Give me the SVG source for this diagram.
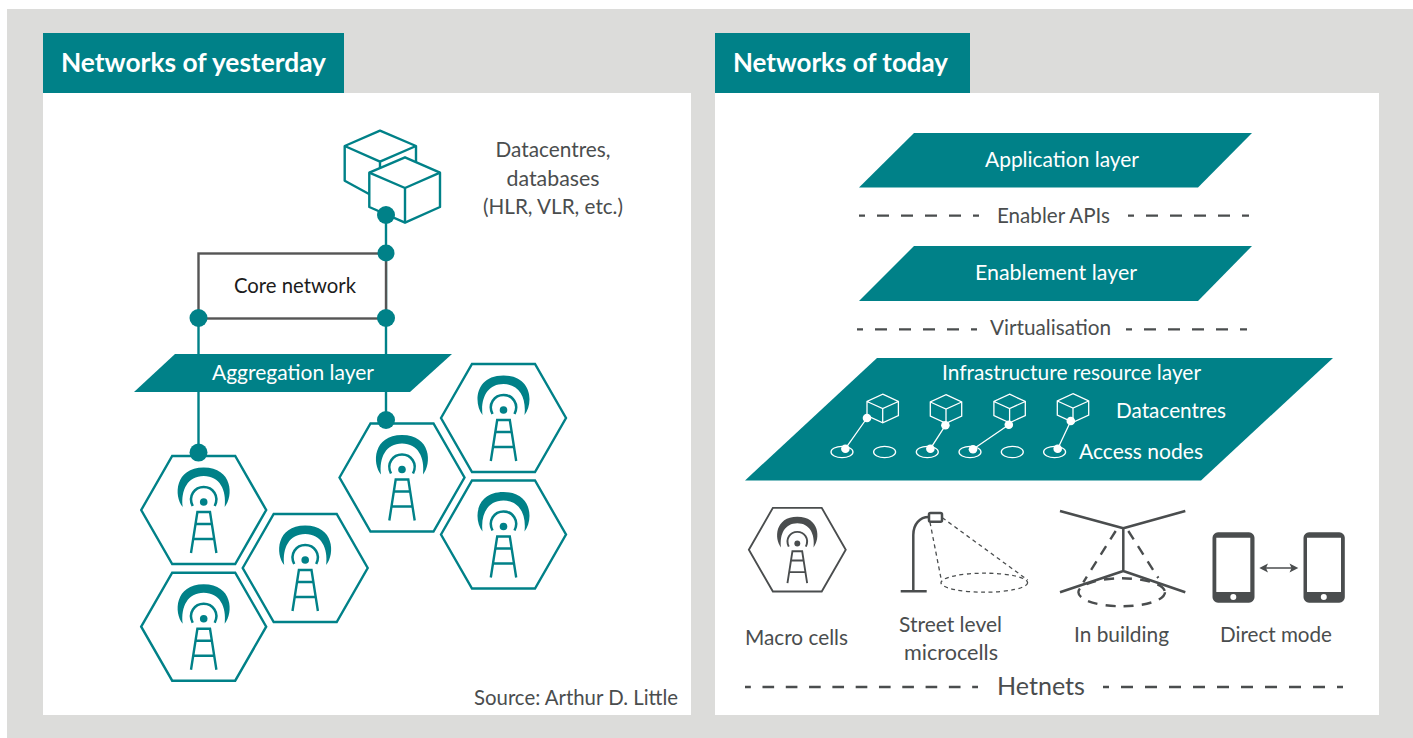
<svg xmlns="http://www.w3.org/2000/svg" xmlns:xlink="http://www.w3.org/1999/xlink" width="1413" height="738" viewBox="0 0 1413 738">
<style>
text{font-family:"Lato","Noto Sans",sans-serif;font-size:21.5px;fill:#4a4d4e}
.w{fill:#fff}
.h{font-size:26px;font-weight:700;fill:#fff}
.t{fill:#008188}
.ln{fill:none;stroke:#008188;stroke-width:2.4}
.g{fill:none;stroke:#4a4d4e;stroke-width:2.500;stroke-linejoin:round}
.dash{fill:none;stroke:#4a4d4e;stroke-width:2.300;stroke-dasharray:12 12;stroke-dashoffset:6}
.cube{fill:#fff;stroke:#008188;stroke-width:2.400;stroke-linejoin:round}
.wc{fill:none;stroke:#fff;stroke-width:1.300}
.wd{fill:#fff}
</style>
<defs>
<g id="tower">
<path fill="currentColor" d="M-21,-3C-30,-14-29,-42.500 0,-42.500C29,-42.500 30,-14 21,-3C23,-20 16,-34 0,-34C-16,-34-23,-20-21,-3Z"/>
<path fill="none" stroke="currentColor" stroke-width="2.500" d="M-11,-4C-16,-14-9,-23 0,-23C9,-23 16,-14 11,-4"/>
<circle cy="-8" r="3.800" fill="currentColor"/>
<path fill="none" stroke="currentColor" stroke-width="2.400" d="M-12.700,43L-6.300,2H6.300L12.700,43M-8.500,14H8.500M-10.500,29H10.500"/>
</g>
<g id="hex">
<path fill="#fff" stroke="currentColor" stroke-width="2.400" d="M-62.500,0L-31.500,-54H31.500L62.500,0L31.500,54H-31.500Z"/>
<use xlink:href="#tower" href="#tower"/>
</g>
<g id="wcube">
<path class="wc" d="M0,-14.300L15.700,-7V7L0,14.300L-15.700,7V-7ZM-15.700,-7L0,0L15.700,-7M0,0V14.300" />
</g>
</defs>
<rect x="7" y="9" width="1406" height="729" fill="#dcdcda"/>
<rect x="43" y="93" width="648" height="622" fill="#fff"/>
<rect x="715" y="93" width="664" height="622" fill="#fff"/>

<g id="header-left"><rect x="43" y="33" width="301" height="60" class="t"/><text class="h" x="61" y="72" textLength="265" lengthAdjust="spacingAndGlyphs">Networks of yesterday</text></g>
<g id="header-right"><rect x="715" y="33" width="255" height="60" class="t"/><text class="h" x="733" y="72" textLength="215" lengthAdjust="spacingAndGlyphs">Networks of today</text></g>

<g id="connectors">
<path class="ln" d="M386,215V420M198.500,318V452"/>
</g>

<g id="datacentres">
<path class="cube" d="M380,130.700L416,146V185L380,200L344.700,180.700V146Z"/>
<path class="cube" style="fill:none" d="M344.700,146L380,161.700L416,146M380,161.700V200"/>
<path class="cube" d="M405,157.300L440,172.700V207L405,222.700L369.300,207V172.700Z"/>
<path class="cube" style="fill:none" d="M369.300,172.700L405,188L440,172.700M405,188V222.700"/>
<text x="553" y="157" text-anchor="middle" textLength="115" lengthAdjust="spacingAndGlyphs">Datacentres,</text>
<text x="553" y="186" text-anchor="middle" textLength="93" lengthAdjust="spacingAndGlyphs">databases</text>
<text x="553" y="214" text-anchor="middle" textLength="140" lengthAdjust="spacingAndGlyphs">(HLR, VLR, etc.)</text>
</g>

<g id="core-network">
<rect x="198.500" y="253.500" width="187.500" height="65" fill="#fff" stroke="#555" stroke-width="2.400"/>
<text x="234" y="293" style="fill:#1c1c1c" textLength="122" lengthAdjust="spacingAndGlyphs">Core network</text>
</g>

<g id="junctions" class="t">
<circle cx="386" cy="215" r="9"/>
<circle cx="386" cy="253" r="8.500"/>
<circle cx="386" cy="318" r="9"/>
<circle cx="198.500" cy="318" r="9"/>
</g>

<g id="aggregation-layer">
<path class="t" d="M175,354H452L410,392H134Z"/>
<text class="w" x="212" y="380" textLength="162" lengthAdjust="spacingAndGlyphs">Aggregation layer</text>
</g>

<g id="cells" color="#008188">
<use xlink:href="#hex" href="#hex" x="203.700" y="510"/>
<use xlink:href="#hex" href="#hex" x="203.700" y="626.700"/>
<use xlink:href="#hex" href="#hex" x="305.200" y="568"/>
<use xlink:href="#hex" href="#hex" x="402" y="477.500"/>
<use xlink:href="#hex" href="#hex" x="503.500" y="418"/>
<use xlink:href="#hex" href="#hex" x="503.500" y="534.500"/>
<circle cx="198.500" cy="452.600" r="9" fill="#008188"/>
<circle cx="386" cy="420" r="9" fill="#008188"/>
</g>

<text id="source" x="474" y="705" textLength="204" lengthAdjust="spacingAndGlyphs">Source: Arthur D. Little</text>

<g id="application-layer">
<path class="t" d="M914,133H1252L1198,187.500H859Z"/>
<text class="w" x="985" y="167" textLength="154" lengthAdjust="spacingAndGlyphs">Application layer</text>
</g>
<g id="enabler-apis">
<path class="dash" d="M859,215.700H979M1128,215.700H1249"/>
<text x="997" y="223" textLength="113" lengthAdjust="spacingAndGlyphs">Enabler APIs</text>
</g>
<g id="enablement-layer">
<path class="t" d="M914,246H1252L1198,301H859Z"/>
<text class="w" x="975" y="280" textLength="162" lengthAdjust="spacingAndGlyphs">Enablement layer</text>
</g>
<g id="virtualisation">
<path class="dash" d="M857,329.300H977M1126,329.300H1247"/>
<text x="990" y="335" textLength="121" lengthAdjust="spacingAndGlyphs">Virtualisation</text>
</g>
<g id="infrastructure-layer">
<path class="t" d="M877,358H1333L1201,480.500H745Z"/>
<text class="w" x="942" y="380" textLength="259" lengthAdjust="spacingAndGlyphs">Infrastructure resource layer</text>
<use xlink:href="#wcube" href="#wcube" x="882.700" y="408.500"/>
<use xlink:href="#wcube" href="#wcube" x="946" y="409"/>
<use xlink:href="#wcube" href="#wcube" x="1009.600" y="408.500"/>
<use xlink:href="#wcube" href="#wcube" x="1073" y="408"/>
<g class="wc">
<ellipse cx="842" cy="452" rx="11" ry="5.700"/><ellipse cx="884.600" cy="452" rx="11" ry="5.700"/><ellipse cx="927.300" cy="452" rx="11" ry="5.700"/><ellipse cx="970" cy="452" rx="11" ry="5.700"/><ellipse cx="1012.300" cy="452" rx="11" ry="5.700"/><ellipse cx="1054.600" cy="452" rx="11" ry="5.700"/>
<path d="M867,418L845.400,448.700M945.400,425.300L930.400,448.700M1008.800,424.700L973,449.300M1070.800,421L1057.700,448.700"/>
</g>
<g class="wd">
<circle cx="867" cy="418" r="4.300"/><circle cx="845.400" cy="448.700" r="4.300"/>
<circle cx="945.400" cy="425.300" r="4.300"/><circle cx="930.400" cy="448.700" r="4.300"/>
<circle cx="1008.800" cy="424.700" r="4.300"/><circle cx="973" cy="449.300" r="4.300"/>
<circle cx="1070.800" cy="421" r="4.300"/><circle cx="1057.700" cy="448.700" r="4.300"/>
</g>
<text class="w" x="1116" y="418" textLength="110" lengthAdjust="spacingAndGlyphs">Datacentres</text>
<text class="w" x="1079" y="459" textLength="124" lengthAdjust="spacingAndGlyphs">Access nodes</text>
</g>

<g id="macro-cells" color="#4a4d4e">
<g transform="translate(797.300 549.700) scale(.775)"><use xlink:href="#hex" href="#hex"/></g>
<text x="745" y="645" textLength="103" lengthAdjust="spacingAndGlyphs">Macro cells</text>
</g>
<g id="street-level">
<path class="g" d="M900.700,591.300H926.700M913.300,591.300V535C913.300,524 920,517 928.700,517"/>
<rect x="929" y="513" width="13" height="8.700" rx="1.500" class="g"/>
<path fill="none" stroke="#4a4d4e" stroke-width="1.300" stroke-dasharray="4 3.500" d="M930,522.300L941.700,582M942.300,517.700L1027.700,580"/>
<ellipse cx="984.300" cy="582.700" rx="43.300" ry="9.500" fill="none" stroke="#4a4d4e" stroke-width="1.300" stroke-dasharray="4 3.500"/>
<text x="899" y="632" textLength="103" lengthAdjust="spacingAndGlyphs">Street level</text>
<text x="904" y="660" textLength="94" lengthAdjust="spacingAndGlyphs">microcells</text>
</g>
<g id="in-building">
<path class="g" d="M1060,511L1123.300,528.300L1185.300,511M1123.300,528.300V571M1060,592.300L1123.300,571L1185.300,592.300"/>
<path fill="none" stroke="#4a4d4e" stroke-width="2.400" stroke-dasharray="10 8" d="M1115.700,531L1083.300,582.300M1128.300,531L1158.300,578"/>
<ellipse cx="1121.700" cy="592.300" rx="43.300" ry="14" fill="none" stroke="#4a4d4e" stroke-width="2.400" stroke-dasharray="10 8"/>
<text x="1074" y="642" textLength="95" lengthAdjust="spacingAndGlyphs">In building</text>
</g>
<g id="direct-mode">
<path fill="#4a4d4e" fill-rule="evenodd" d="M1218,532.300H1249A5.500,5.500 0 0 1 1254.500,537.800V597.200A5.500,5.500 0 0 1 1249,602.700H1218A5.500,5.500 0 0 1 1212.500,597.200V537.800A5.500,5.500 0 0 1 1218,532.300ZM1216.300,537.700V592H1250.300V537.700ZM1233.300,594A3,3 0 1 0 1233.301,600A3,3 0 1 0 1233.300,594Z"/>
<path fill="#4a4d4e" fill-rule="evenodd" d="M1309,532.300H1339.300A5.500,5.500 0 0 1 1344.800,537.800V597.200A5.500,5.500 0 0 1 1339.300,602.700H1309A5.500,5.500 0 0 1 1303.500,597.200V537.800A5.500,5.500 0 0 1 1309,532.300ZM1307,537.700V592H1341V537.700ZM1323.800,594A3,3 0 1 0 1323.801,600A3,3 0 1 0 1323.800,594Z"/>
<path fill="none" stroke="#4a4d4e" stroke-width="1.400" d="M1262,568H1296"/>
<path fill="#4a4d4e" d="M1259.300,568L1268,563.500L1266,568L1268,572.500ZM1298.300,568L1289.500,563.500L1291.500,568L1289.500,572.500Z"/>
<text x="1220" y="642" textLength="112" lengthAdjust="spacingAndGlyphs">Direct mode</text>
</g>
<g id="hetnets">
<path class="dash" style="stroke-dasharray:11.650 11.650;stroke-dashoffset:5.825" d="M745,687H978"/>
<path class="dash" d="M1103,687H1343"/>
<text x="997" y="695" style="font-size:25px" textLength="88" lengthAdjust="spacingAndGlyphs">Hetnets</text>
</g>
</svg>
